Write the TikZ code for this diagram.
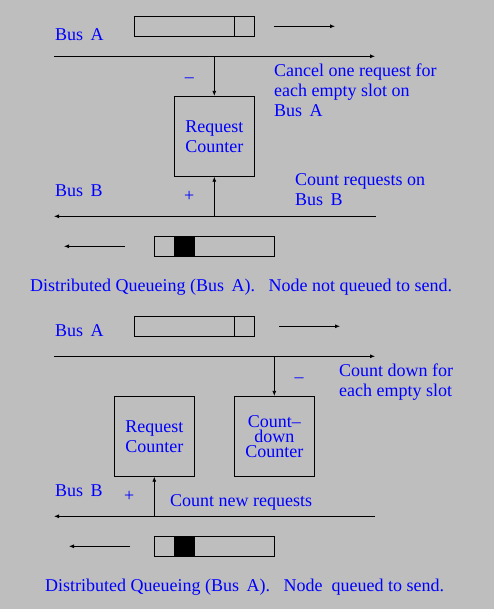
\documentclass[tikz,border=0pt]{standalone}
\usepackage{fontspec}
\setmainfont{Liberation Serif}
\usetikzlibrary{arrows.meta}
\definecolor{fondo}{RGB}{190,190,190}
\frenchspacing
\begin{document}
\begin{tikzpicture}[x=1pt,y=-1pt,font=\fontsize{18}{20}\selectfont,
    linea/.style={line width=0.8pt},
    flecha/.style={linea,-{Latex[length=5pt,width=4pt]}},
    texto/.style={text=blue,inner sep=0pt},
    contador/.style={draw,linea,text=blue,align=center,inner sep=0pt,
        minimum width=80.7pt,minimum height=80pt}]
    % Fondo
    \fill[fondo] (0,0) rectangle (494,609);
    \useasboundingbox (0,0) rectangle (494,609);

    % ===== Arriba: nodo sin peticion =====
    % Ranuras
    \draw[linea] (134,16.3) rectangle (254.3,36.3);
    \draw[linea] (234.3,16.3) -- (234.3,36.3);
    \coordinate (p1) at (274,26.3);
    \coordinate (p2) at (335,26.3);
    \draw[flecha] (p1) -- (p2);

    % Buses
    \coordinate (A1) at (54,56.3);
    \coordinate (A2) at (375,56.3);
    \coordinate (B1) at (376,216.3);
    \coordinate (B2) at (54,216.3);
    \draw[flecha] (A1) -- (A2);
    \draw[flecha] (B1) -- (B2);

    % Contador
    \node[contador] (rc) at (214.3,136.3) {Request\\Counter};
    \draw[flecha] (A1 -| rc.north) -- (rc.north);
    \draw[flecha] (B1 -| rc.south) -- (rc.south);

    % Etiquetas
    \node[texto,anchor=base west] (busA) at (55,41) {Bus\, A};
    \node[texto,anchor=base west] (busB) at (55,196.7) {Bus\, B};
    \node[texto] (menos) at (189.3,80) {–};
    \node[texto] (mas) at (189.3,196.7) {+};
    \node[texto,anchor=base west,align=left] (cancel) at (274,116.5)
        {Cancel one request for\\each empty slot on\\Bus\, A};
    \node[texto,anchor=base west,align=left] (cuenta) at (295,206)
        {Count requests on\\Bus\, B};

    % Ranuras del bus B
    \coordinate (q1) at (125,246.3);
    \coordinate (q2) at (64,246.3);
    \draw[flecha] (q1) -- (q2);
    \fill (174,236.3) rectangle (195,256.3);
    \draw[linea] (154.3,236.3) rectangle (274.3,256.3);

    \node[texto,anchor=base west] (tit1) at (30,291)
        {Distributed Queueing (Bus\, A).~~ Node not queued to send.};

    % ===== Abajo: nodo en cola =====
    % Ranuras
    \draw[linea] (134,316.3) rectangle (254.3,336.3);
    \draw[linea] (234.3,316.3) -- (234.3,336.3);
    \coordinate (p3) at (279,326.3);
    \coordinate (p4) at (340,326.3);
    \draw[flecha] (p3) -- (p4);

    % Buses
    \coordinate (A3) at (54,356.3);
    \coordinate (A4) at (375,356.3);
    \coordinate (B3) at (375,516.3);
    \coordinate (B4) at (54,516.3);
    \draw[flecha] (A3) -- (A4);
    \draw[flecha] (B3) -- (B4);

    % Contadores
    \node[contador] (rc2) at (154.3,436.3) {Request\\Counter};
    \node[contador,font=\fontsize{18}{15}\selectfont] (cd) at (274.3,436.3)
        {Count–\\down\\Counter};
    \draw[flecha] (A3 -| cd.north) -- (cd.north);
    \draw[flecha] (B3 -| rc2.south) -- (rc2.south);

    % Etiquetas
    \node[texto,anchor=base west] (busA2) at (55,336) {Bus\, A};
    \node[texto,anchor=base west] (busB2) at (55,496.7) {Bus\, B};
    \node[texto] (menos2) at (299,380) {–};
    \node[texto] (mas2) at (129.3,496.7) {+};
    \node[texto,anchor=base west,align=left] (baja) at (339,396.5)
        {Count down for\\each empty slot};
    \node[texto,anchor=base west] (nuevas) at (170,506) {Count new requests};

    % Ranuras del bus B
    \coordinate (q3) at (130,546.3);
    \coordinate (q4) at (69,546.3);
    \draw[flecha] (q3) -- (q4);
    \fill (174,536.3) rectangle (195,556.3);
    \draw[linea] (154.3,536.3) rectangle (274.3,556.3);

    \node[texto,anchor=base west] (tit2) at (45,591)
        {Distributed Queueing (Bus\, A).~~ Node~ queued to send.};
\end{tikzpicture}
\end{document}
